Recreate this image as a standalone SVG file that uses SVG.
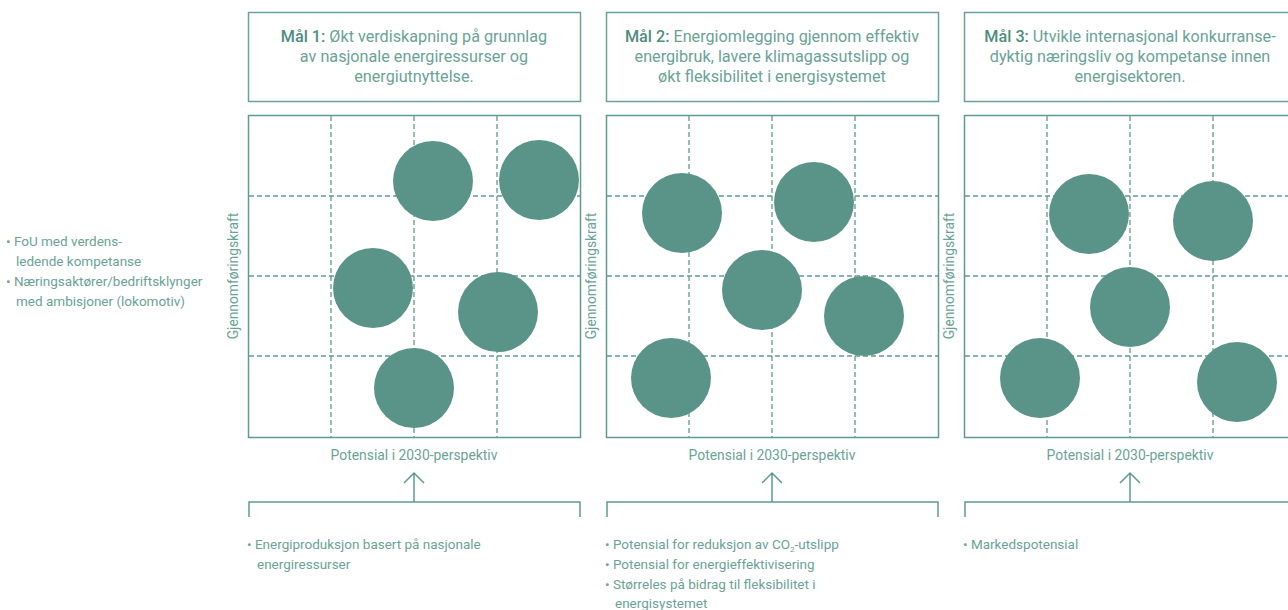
<svg xmlns="http://www.w3.org/2000/svg" width="1288" height="610" viewBox="0 0 1288 610">
<style>
text{font-family:Roboto,"Liberation Sans",sans-serif;fill:#6aa396}
.hd{font-size:16.2px;text-anchor:middle}
.hd .b{font-weight:500;fill:#4f8d80}
.box{fill:none;stroke:#6aa396;stroke-width:1.5}
.frame{fill:none;stroke:#5f9a8e;stroke-width:1.5}
.grid{stroke:#5f9a8e;stroke-width:1.3;stroke-dasharray:5 3;fill:none}
.dot{fill:#5a9488}
.ax{font-size:13.9px;text-anchor:middle}
.sm{font-size:13.5px}
.vl{font-size:13.8px}
.conn{fill:none;stroke:#5f9a8e;stroke-width:1.5}
</style>
<rect width="1288" height="610" fill="#fff"/>

<g id="left-text">
<text class="sm" x="6" y="246">• FoU med verdens-</text>
<text class="sm" x="16" y="266">ledende kompetanse</text>
<text class="sm" x="6" y="286">• Næringsaktører/bedriftsklynger</text>
<text class="sm" x="16" y="306">med ambisjoner (lokomotiv)</text>
</g>

<g id="goal1">
<rect class="box" x="248.5" y="12.5" width="332" height="89"/>
<text class="hd" x="414" y="42"><tspan class="b">Mål 1:</tspan> Økt verdiskapning på grunnlag</text>
<text class="hd" x="414" y="62">av nasjonale energiressurser og</text>
<text class="hd" x="414" y="82">energiutnyttelse.</text>
</g>
<g id="goal2">
<rect class="box" x="606.5" y="12.5" width="332" height="89"/>
<text class="hd" x="772" y="42"><tspan class="b">Mål 2:</tspan> Energiomlegging gjennom effektiv</text>
<text class="hd" x="772" y="62">energibruk, lavere klimagassutslipp og</text>
<text class="hd" x="772" y="82">økt fleksibilitet i energisystemet</text>
</g>
<g id="goal3">
<rect class="box" x="964.5" y="12.5" width="332" height="89"/>
<text class="hd" x="1130" y="42"><tspan class="b">Mål 3:</tspan> Utvikle internasjonal konkurranse-</text>
<text class="hd" x="1130" y="62">dyktig næringsliv og kompetanse innen</text>
<text class="hd" x="1130" y="82">energisektoren.</text>
</g>

<g id="matrix1">
<rect class="frame" x="248.5" y="115.5" width="332" height="322"/>
<path class="grid" d="M331 116V437M414 116V437M497 116V437M249 196H580M249 276H580M249 356H580"/>
<text class="vl" transform="translate(238 276) rotate(-90)" text-anchor="middle">Gjennomføringskraft</text>
<circle class="dot" cx="433" cy="181" r="40"/>
<circle class="dot" cx="539" cy="180" r="40"/>
<circle class="dot" cx="373" cy="288" r="40"/>
<circle class="dot" cx="498" cy="312" r="40"/>
<circle class="dot" cx="414" cy="388" r="40"/>
<text class="ax" x="414" y="460">Potensial i 2030-perspektiv</text>
</g>
<g id="matrix2">
<rect class="frame" x="606.5" y="115.5" width="332" height="322"/>
<path class="grid" d="M689 116V437M772 116V437M855 116V437M607 196H938M607 276H938M607 356H938"/>
<text class="vl" transform="translate(596 276) rotate(-90)" text-anchor="middle">Gjennomføringskraft</text>
<circle class="dot" cx="682" cy="213" r="40"/>
<circle class="dot" cx="814" cy="202" r="40"/>
<circle class="dot" cx="762" cy="290" r="40"/>
<circle class="dot" cx="864" cy="316" r="40"/>
<circle class="dot" cx="671" cy="378" r="40"/>
<text class="ax" x="772" y="460">Potensial i 2030-perspektiv</text>
</g>
<g id="matrix3">
<rect class="frame" x="964.5" y="115.5" width="332" height="322"/>
<path class="grid" d="M1047 116V437M1130 116V437M1213 116V437M965 196H1296M965 276H1296M965 356H1296"/>
<text class="vl" transform="translate(954 276) rotate(-90)" text-anchor="middle">Gjennomføringskraft</text>
<circle class="dot" cx="1089" cy="214" r="40"/>
<circle class="dot" cx="1213" cy="221" r="40"/>
<circle class="dot" cx="1130" cy="307" r="40"/>
<circle class="dot" cx="1040" cy="378" r="40"/>
<circle class="dot" cx="1237" cy="382" r="40"/>
<text class="ax" x="1130" y="460">Potensial i 2030-perspektiv</text>
</g>

<g id="connectors">
<path class="conn" d="M249 517V502H580V517M414 502V473M404 483L414 473L424 483"/>
<path class="conn" d="M607 517V502H938V517M772 502V473M762 483L772 473L782 483"/>
<path class="conn" d="M965 517V502H1296V517M1130 502V473M1120 483L1130 473L1140 483"/>
</g>

<g id="criteria1">
<text class="sm" x="247" y="549">• Energiproduksjon basert på nasjonale</text>
<text class="sm" x="257" y="569">energiressurser</text>
</g>
<g id="criteria2">
<text class="sm" x="605" y="549">• Potensial for reduksjon av CO<tspan font-size="8" dy="3">2</tspan><tspan dy="-3">-utslipp</tspan></text>
<text class="sm" x="605" y="569">• Potensial for energieffektivisering</text>
<text class="sm" x="605" y="589">• Størreles på bidrag til fleksibilitet i</text>
<text class="sm" x="615" y="608">energisystemet</text>
</g>
<g id="criteria3">
<text class="sm" x="963" y="549">• Markedspotensial</text>
</g>
</svg>
